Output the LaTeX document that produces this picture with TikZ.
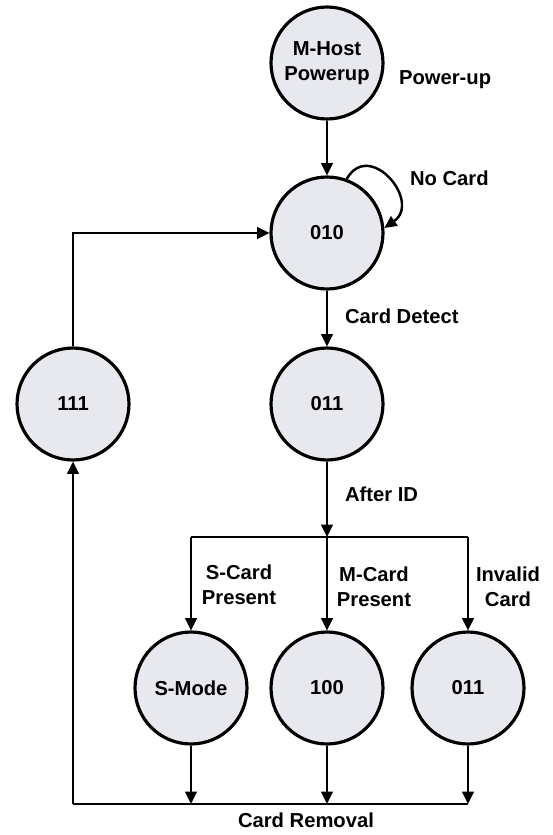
\documentclass[tikz,border=0pt]{standalone}
\usepackage{fontspec}
\setmainfont{Liberation Sans}
\usetikzlibrary{arrows.meta}
\definecolor{stateFill}{HTML}{E8E8EF}

\begin{document}
\begin{tikzpicture}[
    x=0.02cm, y=-0.02cm,
    state/.style={circle, draw=black, line width=1.8pt, fill=stateFill, minimum size=2.24cm, inner sep=0pt, align=center, font=\bfseries\fontsize{11.5}{14}\selectfont},
    lbl/.style={align=center, inner sep=1pt, font=\bfseries\fontsize{11.5}{14}\selectfont},
    arr/.style={-{Triangle[length=7pt, width=6.5pt]}, line width=1.4pt},
    ln/.style={line width=1.4pt}
]
\useasboundingbox (0,0) rectangle (553,835);
% Nodes
\node[state] (host) at (327,63) {M-Host\\Powerup};
\node[state] (s010) at (327,233) {010};
\node[state] (s111) at (73,404) {111};
\node[state] (s011) at (327,404) {011};
\node[state] (smode) at (191,688) {S-Mode};
\node[state] (s100) at (327,688) {100};
\node[state] (s011b) at (468,688) {011};
% Labels
\node[lbl, anchor=west] (powerup) at (397,80) {Power-up};
\node[lbl, anchor=west] (nocard) at (408,178) {No Card};
\node[lbl, anchor=west] (detect) at (343,316) {Card Detect};
\node[lbl, anchor=west] (afterid) at (343,494) {After ID};
\node[lbl] (scard) at (239,585) {S-Card\\Present};
\node[lbl] (mcard) at (374,587) {M-Card\\Present};
\node[lbl] (invalid) at (508,587) {Invalid\\Card};
\node[lbl] (removal) at (306,820) {Card Removal};
% Junctions
\coordinate (bar) at (327,537);
\coordinate (barL) at (191,537);
\coordinate (barR) at (468,537);
\coordinate (botL) at (73,804);
\coordinate (botR) at (468,804);
% Arrows
\draw[arr] (host) -- (s010);
\draw[arr] (s010.70) to[out=60, in=35, looseness=1.9] (s010.5);
\draw[arr] (s010) -- (s011);
\draw[arr] (s111.north) |- (s010.west);
\draw[arr] (s011) -- (bar);
\draw[ln] (barL) -- (barR);
\draw[arr] (barL) -- (smode);
\draw[arr] (bar) -- (s100);
\draw[arr] (barR) -- (s011b);
\draw[ln] (botL) -- (botR);
\draw[arr] (botL) -- (s111);
\draw[arr] (smode) -- (smode.center |- botL);
\draw[arr] (s100) -- (s100.center |- botL);
\draw[arr] (s011b) -- (botR);
\end{tikzpicture}
\end{document}
